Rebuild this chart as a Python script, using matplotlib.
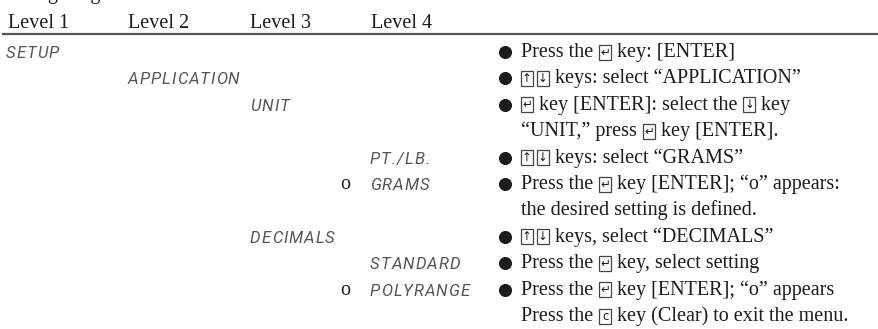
import matplotlib
matplotlib.use("Agg")
import matplotlib.pyplot as plt
from matplotlib.patches import Rectangle

# table content
headers = ["Level 1", "Level 2", "Level 3", "Level 4"]
header_x = [8, 128, 250, 371]

menu_rows = [0, 1, 2, 4, 5, 7, 8, 9]
menu_levels = [0, 1, 2, 3, 3, 2, 3, 3]
menu_labels = ["SETUP", "APPLICATION", "UNIT", "PT./LB.", "GRAMS",
               "DECIMALS", "STANDARD", "POLYRANGE"]
menu_selected = [False, False, False, False, True, False, False, True]

ENT, UP, DN, CLR = "\u21b5", "\u2191", "\u2193", "c"
KEYS = [ENT, UP, DN, CLR]

instructions = [
    ["Press the ", ENT, " key: [ENTER]"],
    [UP, DN, " keys: select \u201cAPPLICATION\u201d"],
    [ENT, " key [ENTER]: select the ", DN, " key"],
    ["\u201cUNIT,\u201d press ", ENT, " key [ENTER]."],
    [UP, DN, " keys: select \u201cGRAMS\u201d"],
    ["Press the ", ENT, " key [ENTER]; \u201co\u201d appears:"],
    ["the desired setting is defined."],
    [UP, DN, " keys, select \u201cDECIMALS\u201d"],
    ["Press the ", ENT, " key, select setting"],
    ["Press the ", ENT, " key [ENTER]; \u201co\u201d appears"],
    ["Press the ", CLR, " key (Clear) to exit the menu."],
]
bullet_rows = [0, 1, 2, 4, 5, 7, 8, 9]

W, H = 879, 329
fig = plt.figure(figsize=(W / 100, H / 100), dpi=100)
ax = fig.add_axes([0, 0, 1, 1])
ax.set_xlim(0, W)
ax.set_ylim(H, 0)
ax.axis("off")

SERIF = "Liberation Serif"
FS = 14.5
INK = "#1c1c1c"
LCD = "#555555"
row_y0, row_dy = 57, 26.4
text_x, bullet_x = 521, 505
level_x = [6, 128, 250, 370]

renderer = fig.canvas.get_renderer()


def text_width(s, **kw):
    # width incl. spaces: measure with a guard char on each side
    t1 = ax.text(0, 0, "x" + s + "x", **kw)
    t2 = ax.text(0, 0, "xx", **kw)
    w = t1.get_window_extent(renderer).width - t2.get_window_extent(renderer).width
    t1.remove()
    t2.remove()
    return w


# caption above the table, cropped by the page edge (only descenders show)
ax.text(2, -1, "Configuring the Balance", family=SERIF, fontsize=FS,
        color=INK, va="baseline")

# header
for lab, x in zip(headers, header_x):
    ax.text(x, 28, lab, family=SERIF, fontsize=FS, color=INK, va="baseline")
ax.plot([2, W], [33.5, 33.5], color="#555555", lw=1.6, solid_capstyle="butt")

# menu items (display-style labels, letter-spaced like a segment display)
lcd_kw = dict(family="Roboto", style="italic", fontsize=12, color=LCD,
              va="baseline")
tracking = 1.0
for row, lev, lab, sel in zip(menu_rows, menu_levels, menu_labels, menu_selected):
    y = row_y0 + row_dy * row + 1
    x = level_x[lev]
    for ch in lab:
        ax.text(x, y, ch, **lcd_kw)
        x += text_width(ch, **lcd_kw) + tracking
    if sel:
        ax.text(340, y - 1, "o", family=SERIF, fontsize=FS, color=INK,
                va="baseline")

# bullets
for row in bullet_rows:
    ax.plot(bullet_x, row_y0 + row_dy * row - 5, "o", ms=8.4, color=INK)

# instruction lines with key boxes
kw = dict(family=SERIF, fontsize=FS, color=INK, va="baseline")
for row, parts in enumerate(instructions):
    y = row_y0 + row_dy * row
    x = text_x
    prev_key = False
    for i, p in enumerate(parts):
        if p in KEYS:
            x += 3 if prev_key else (1 if i > 0 else 0)
            bw, bh = 12, 15
            ax.add_patch(Rectangle((x, y - 12.5), bw, bh, fill=False,
                                   ec="#444444", lw=0.9))
            ax.text(x + bw / 2, y - 5, p, family="DejaVu Sans", fontsize=8.5,
                    color=INK, ha="center", va="center")
            x += bw + 1
            prev_key = True
        else:
            ax.text(x, y, p, **kw)
            x += text_width(p, **kw)
            prev_key = False

fig.savefig("out.png", dpi=100)
